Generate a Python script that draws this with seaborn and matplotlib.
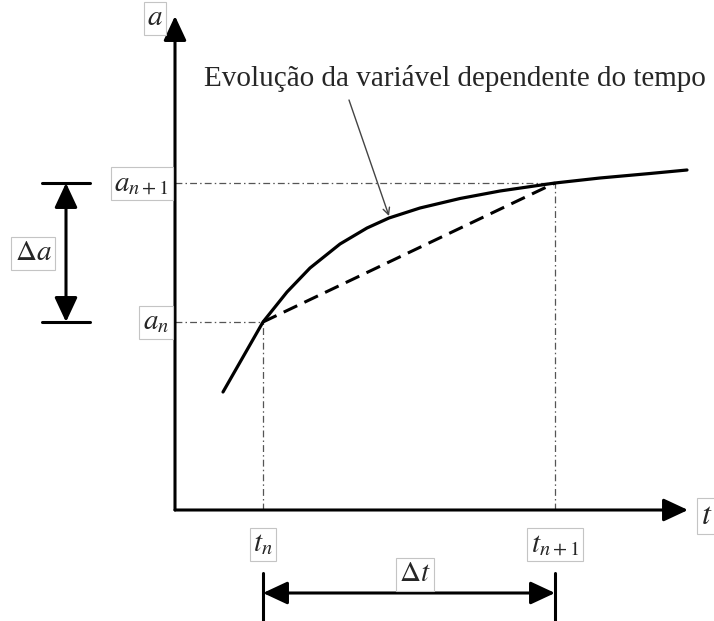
import numpy as np
import pandas as pd
import matplotlib
matplotlib.use("Agg")
import matplotlib.pyplot as plt
import seaborn as sns

# curve a(t) (units: 1 = 10 px from the origin)
t_curve = [4.8, 6.8, 8.8, 11.2, 13.5, 16.5, 19.2, 21.4, 24.5, 28.5, 32.5, 38.0, 42.5, 47.5, 51.2]
a_curve = [11.8, 15.3, 18.8, 21.8, 24.2, 26.6, 28.2, 29.2, 30.2, 31.15, 31.9, 32.7, 33.2, 33.65, 34.0]

# the two time steps
t_steps = [8.8, 38.0]
a_steps = [18.8, 32.7]
t_labels = [r"$t_n$", r"$t_{n+1}$"]
a_labels = [r"$a_n$", r"$a_{n+1}$"]

annot_text = "Evolução da variável dependente do tempo"

sns.set_theme(style="white")
plt.rcParams["font.family"] = ["Liberation Serif", "DejaVu Serif"]
plt.rcParams["mathtext.fontset"] = "stix"

fig = plt.figure(figsize=(7.14, 6.21), dpi=100)
ax = fig.add_axes([0, 0, 1, 1])
ax.set_xlim(-17.5, 53.9)
ax.set_ylim(-11.1, 51.0)
ax.axis("off")

box = dict(boxstyle="square,pad=0.12", fc="white", ec="#c4c4c4", lw=0.8)
dashdot = (0, (5.5, 2.5, 1.2, 2.5))
grey = "#555555"
head = "-|>,head_length=0.6,head_width=0.28"
head2 = "<|-|>,head_length=0.6,head_width=0.28"

# axes with arrows
ax.annotate("", xy=(0, 49.4), xytext=(0, 0),
            arrowprops=dict(arrowstyle=head, lw=2.2, color="black",
                            mutation_scale=25, shrinkA=0, shrinkB=0))
ax.annotate("", xy=(51.3, 0), xytext=(0, 0),
            arrowprops=dict(arrowstyle=head, lw=2.2, color="black",
                            mutation_scale=25, shrinkA=0, shrinkB=0))
ax.text(-2.0, 49.2, r"$a$", fontsize=21, ha="center", va="center", bbox=box)
ax.text(52.6, -0.6, r"$t$", fontsize=23, ha="left", va="center", bbox=box)

# guide lines
for ts, as_ in zip(t_steps, a_steps):
    ax.plot([0, ts], [as_, as_], color=grey, lw=0.9, ls=dashdot)
    ax.plot([ts, ts], [0, as_], color=grey, lw=0.9, ls=dashdot)

# curve and secant
curve = pd.DataFrame({"t": t_curve, "a": a_curve})
sns.lineplot(data=curve, x="t", y="a", sort=False, color="black", lw=2.3, ax=ax)
secant = pd.DataFrame({"t": t_steps, "a": a_steps})
sns.lineplot(data=secant, x="t", y="a", sort=False, color="black", lw=2.2,
             ax=ax, linestyle=(0, (4.9, 2.6)))

# tick labels
for ts, lab in zip(t_steps, t_labels):
    ax.text(ts, -2.1, lab, fontsize=21, ha="center", va="top", bbox=box)
for as_, lab in zip(a_steps, a_labels):
    ax.text(-0.6, as_, lab, fontsize=21, ha="right", va="center", bbox=box)

# annotation
ax.text(2.9, 43.2, annot_text, fontsize=21, ha="left", va="center")
ax.annotate("", xy=(21.4, 29.4), xytext=(17.4, 41.0),
            arrowprops=dict(arrowstyle="->", lw=1.0, color="#444444",
                            mutation_scale=12, shrinkA=0, shrinkB=0))

# delta a
for as_ in a_steps:
    ax.plot([-13.3, -8.5], [as_, as_], color="black", lw=2.2)
ax.annotate("", xy=(-10.9, a_steps[1]), xytext=(-10.9, a_steps[0]),
            arrowprops=dict(arrowstyle=head2, lw=2.2, color="black",
                            mutation_scale=25, shrinkA=0, shrinkB=0))
ax.text(-14.2, 25.7, r"$\Delta a$", fontsize=21, ha="center", va="center", bbox=box)

# delta t
for ts in t_steps:
    ax.plot([ts, ts], [-6.3, -11.1], color="black", lw=2.2)
ax.annotate("", xy=(t_steps[1], -8.3), xytext=(t_steps[0], -8.3),
            arrowprops=dict(arrowstyle=head2, lw=2.2, color="black",
                            mutation_scale=25, shrinkA=0, shrinkB=0))
ax.text(24.0, -6.4, r"$\Delta t$", fontsize=21, ha="center", va="center", bbox=box)

fig.savefig("out.png", dpi=100)
